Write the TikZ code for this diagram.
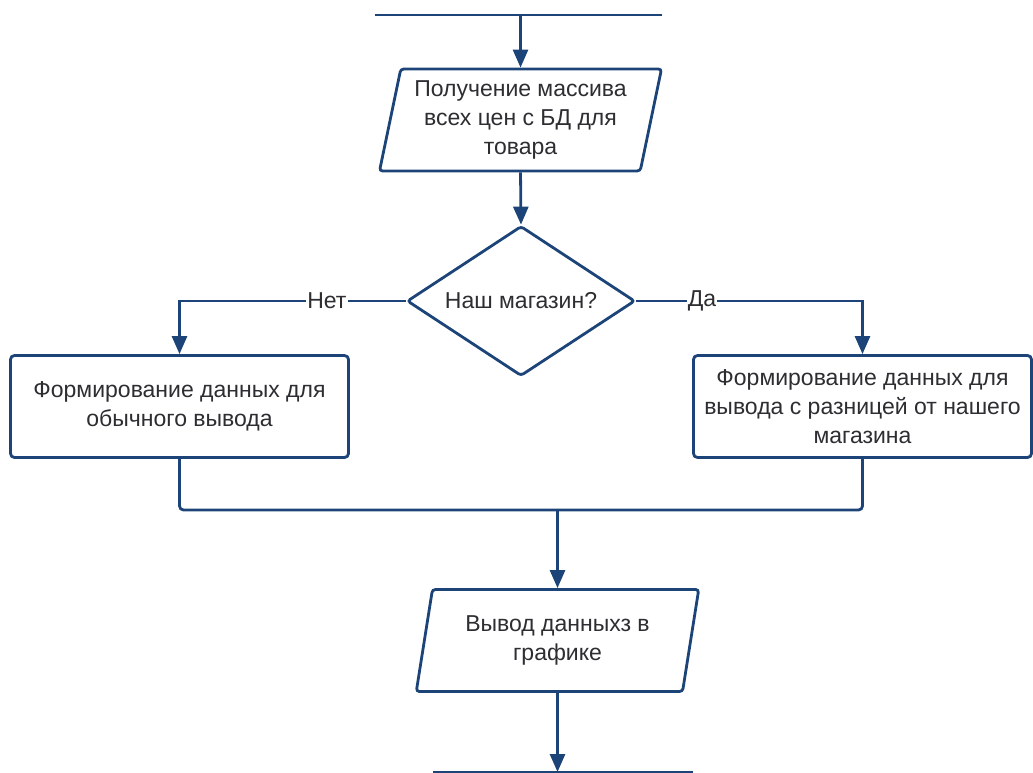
\documentclass[tikz,border=0pt]{standalone}
\usepackage{fontspec}
\setmainfont{Liberation Sans}
\usetikzlibrary{shapes.geometric,arrows.meta}
\definecolor{flowline}{RGB}{28,68,120}
\definecolor{flowtext}{RGB}{45,45,50}
\begin{document}
\begin{tikzpicture}[x=1pt,y=-1pt,
  every node/.style={font=\fontsize{23}{29}\selectfont, text=flowtext, align=center},
  conn/.style={draw=flowline, line width=2.8pt},
  arr/.style={conn, -{Triangle[length=18pt,width=15pt]}},
  iobox/.style={draw=flowline, line width=2.8pt, fill=white, shape=trapezium,
    trapezium left angle=76.5, trapezium right angle=103.5,
    trapezium stretches=true, rounded corners=3pt,
    minimum width=283pt, minimum height=102pt, inner sep=0pt},
  procbox/.style={draw=flowline, line width=2.8pt, fill=white, rounded corners=4pt,
    minimum width=338pt, minimum height=102pt, inner sep=0pt},
  decision/.style={draw=flowline, line width=2.8pt, fill=white, shape=diamond,
    aspect=1.5, rounded corners=3pt, minimum width=228pt, minimum height=150pt,
    inner sep=0pt},
  lbl/.style={fill=white, inner sep=1pt}]
\useasboundingbox (0,0) rectangle (1033,773);

% input / output blocks
\node[iobox] (in) at (520.5,120) {Получение массива\\всех цен с БД для\\товара};
\node[decision] (dec) at (521,301) {Наш магазин?};
\node[procbox] (plain) at (179.5,406.5) {Формирование данных для\\обычного вывода};
\node[procbox] (diff) at (862.5,406.5) {Формирование данных для\\вывода с разницей от нашего\\магазина};
\node[iobox] (out) at (557.5,640.5) {Вывод данныхз в\\графике};

% entry and exit bars
\coordinate (topL) at (375,15);
\coordinate (topR) at (662,15);
\coordinate (topM) at (520.5,15);
\coordinate (botL) at (433,772);
\coordinate (botR) at (693,772);
\coordinate (botM) at (557.5,772);
\coordinate (join) at (557.5,510);
\draw[conn] (topL) -- (topR);
\draw[conn] (botL) -- (botR);

% flow
\draw[arr] (topM) -- (in.north);
\draw[arr] (in.south) -- (dec.north);
\draw[arr] (dec.west) -| node[lbl, pos=0.174] {Нет} (plain.north);
\draw[arr] (dec.east) -| node[lbl, pos=0.145] {Да} (diff.north);
\draw[conn, rounded corners=4pt] (plain.south) |- (join) -| (diff.south);
\draw[arr] (join) -- (out.north);
\draw[arr] (out.south) -- (botM);
\end{tikzpicture}
\end{document}
